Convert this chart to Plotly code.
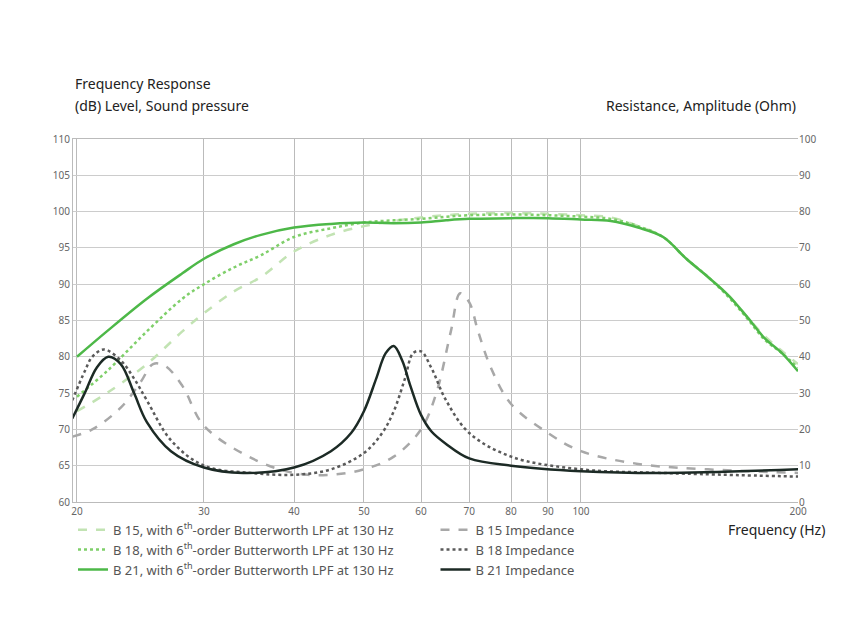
import plotly.graph_objects as go

freq = [20, 22, 25, 28, 30, 33, 36, 40, 45, 50, 55, 60, 65, 70, 80, 90, 100, 110, 120, 130, 140, 150, 160, 170, 180, 190, 200]
b21_db = [80, 83.5, 88, 91.5, 93.5, 95.5, 96.8, 97.8, 98.3, 98.5, 98.4, 98.5, 98.8, 99, 99.1, 99.1, 98.9, 98.7, 97.8, 96.5, 93.5, 91, 88.5, 85.5, 82.5, 80.5, 78]
b18_db = [74.5, 78, 83.5, 88, 90, 92.3, 94, 96.5, 97.7, 98.5, 98.8, 99, 99.3, 99.5, 99.6, 99.5, 99.3, 99, 98, 96.5, 93.5, 91, 88.3, 85.3, 82.3, 80.5, 78.5]
b15_db = [72.5, 75, 79, 83.5, 86, 89, 91, 94.5, 96.8, 98, 98.7, 99.2, 99.5, 99.7, 99.8, 99.7, 99.5, 99.2, 98, 96.5, 93.5, 91, 88.5, 85.5, 82.8, 80.8, 79]

imp21_f = [19.7, 20.5, 21.3, 22.1, 23, 24, 25, 27, 30, 34, 40, 45, 48, 50, 52, 53.6, 55, 56.5, 58, 60, 62, 65, 70, 80, 100, 130, 200]
imp21 = [23, 30, 37, 40, 38, 30, 22, 14, 9.5, 8, 9.5, 14, 19, 25, 34, 41, 43, 39, 32, 24, 19.5, 16, 12, 10, 8.5, 8, 9]
imp18_f = [19.7, 20.5, 21, 21.8, 23, 24, 25, 27, 30, 35, 40, 45, 50, 53, 55, 57, 58.5, 60, 62, 65, 70, 80, 100, 130, 200]
imp18 = [28, 36, 40, 42, 39, 34, 28, 17, 10, 8, 7.5, 9, 13.5, 19, 25, 34, 41, 41.5, 37, 28, 19, 12.5, 9, 8, 7]
imp15_f = [19.7, 21, 23, 24.5, 25.5, 26.5, 28, 30, 35, 40, 45, 50, 55, 60, 63, 66, 68, 70, 72, 75, 80, 90, 100, 120, 150, 200]
imp15 = [18, 20, 26, 33, 38, 37.5, 32, 21, 12, 8, 7.5, 9, 12.5, 20, 30, 47, 57.5, 55, 47, 37, 27, 19, 14, 10.5, 9, 8]

ticks = [20, 30, 40, 50, 60, 70, 80, 90, 100, 200]

fig = go.Figure()
fig.add_trace(go.Scatter(x=freq, y=b15_db, name="B 15, with 6<sup>th</sup>-order Butterworth LPF at 130 Hz",
                         line=dict(color="#c2e3b3", width=2.5, dash="dash", shape="spline")))
fig.add_trace(go.Scatter(x=imp15_f, y=imp15, yaxis="y2", name="B 15 Impedance",
                         line=dict(color="#a8a8a8", width=2.5, dash="dash", shape="spline")))
fig.add_trace(go.Scatter(x=freq, y=b18_db, name="B 18, with 6<sup>th</sup>-order Butterworth LPF at 130 Hz",
                         line=dict(color="#7fcf6a", width=2.5, dash="dot", shape="spline")))
fig.add_trace(go.Scatter(x=imp18_f, y=imp18, yaxis="y2", name="B 18 Impedance",
                         line=dict(color="#5a5a5a", width=2.5, dash="dot", shape="spline")))
fig.add_trace(go.Scatter(x=freq, y=b21_db, name="B 21, with 6<sup>th</sup>-order Butterworth LPF at 130 Hz",
                         line=dict(color="#4db848", width=2.5, shape="spline")))
fig.add_trace(go.Scatter(x=imp21_f, y=imp21, yaxis="y2", name="B 21 Impedance",
                         line=dict(color="#1c2a25", width=2.5, shape="spline")))

fig.update_layout(
    width=850, height=638, plot_bgcolor="white", paper_bgcolor="white",
    font=dict(family="Noto Sans", size=10, color="#666"),
    margin=dict(l=65, r=60, t=131, b=144, autoexpand=False),
    xaxis=dict(type="log", range=[1.2955, 2.301], tickvals=ticks, ticktext=[str(t) for t in ticks],
               showgrid=True, gridcolor="#bbbbbb", showline=True, linecolor="#bbbbbb", mirror=True,
               zeroline=False, ticks="", automargin=False),
    yaxis=dict(range=[60, 110], dtick=5, showgrid=True, gridcolor="#cccccc", zeroline=False,
               showline=True, linecolor="#bbbbbb", ticks="", automargin=False),
    yaxis2=dict(range=[0, 100], dtick=10, overlaying="y", side="right", showgrid=False,
                zeroline=False, ticks="", automargin=False),
    legend=dict(orientation="h", x=0.0, y=-0.035, xanchor="left", yanchor="top",
                entrywidth=0.5, entrywidthmode="fraction", tracegroupgap=0,
                font=dict(size=13, color="#555")),
    showlegend=True,
)
fig.add_annotation(x=0, y=1.06, xref="paper", yref="paper", text="(dB) Level, Sound pressure",
                   showarrow=False, xanchor="left", yanchor="bottom", font=dict(size=14, color="#222"))
fig.add_annotation(x=0, y=1.12, xref="paper", yref="paper", text="Frequency Response",
                   showarrow=False, xanchor="left", yanchor="bottom", font=dict(size=14, color="#222"))
fig.add_annotation(x=1.0, y=1.06, xref="paper", yref="paper", text="Resistance, Amplitude (Ohm)",
                   showarrow=False, xanchor="right", yanchor="bottom", font=dict(size=14, color="#222"))
fig.add_annotation(x=1.04, y=-0.045, xref="paper", yref="paper", text="Frequency (Hz)",
                   showarrow=False, xanchor="right", yanchor="top", font=dict(size=14, color="#222"))
fig.write_html("out.html")
